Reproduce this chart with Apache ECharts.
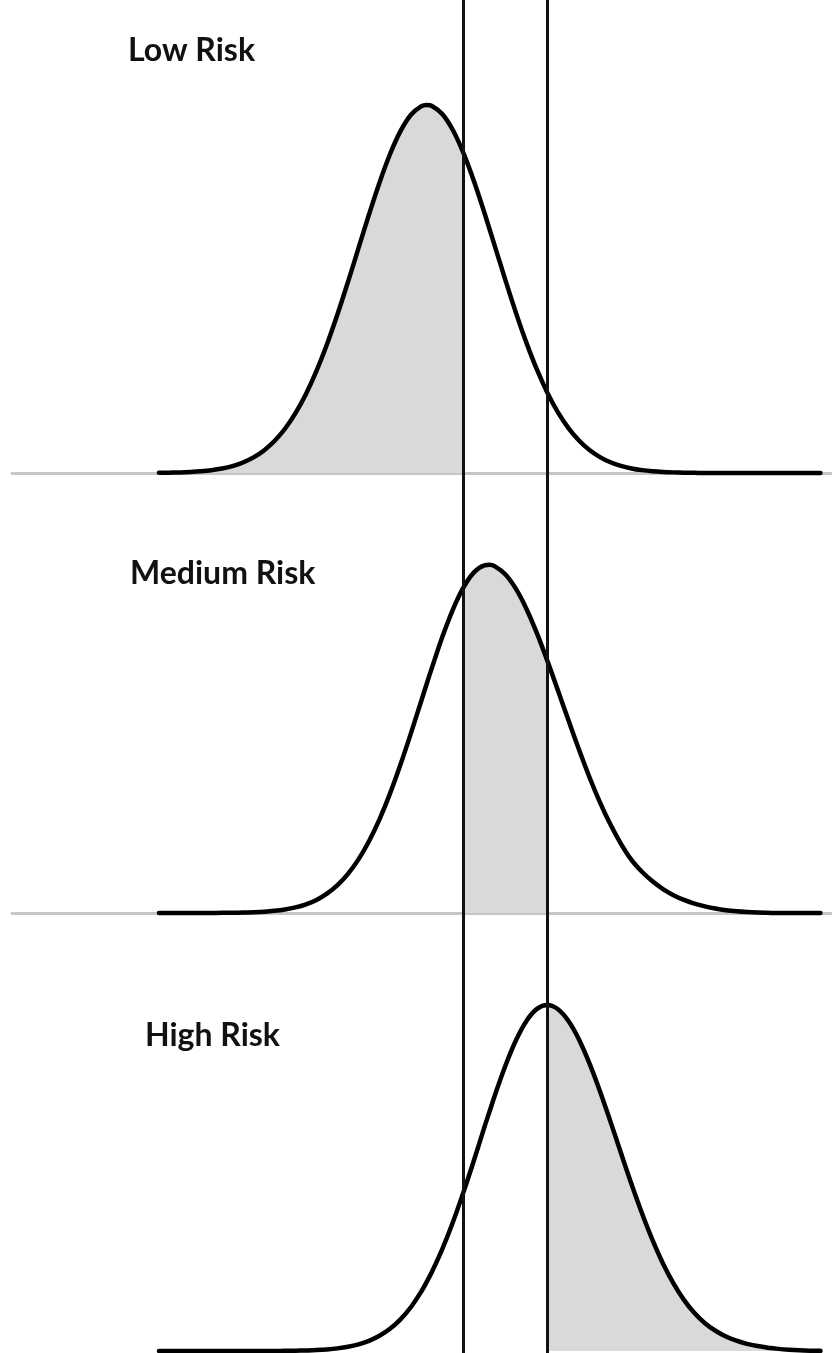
<!DOCTYPE html>
<html><head><meta charset="utf-8">
<script src="https://cdn.jsdelivr.net/npm/echarts@6/dist/echarts.min.js"></script>
<style>html,body{margin:0;padding:0;background:#fff}#c{width:832px;height:1353px}</style>
</head><body><div id="c"></div>
<script>
// x positions (risk score scale, cut-offs at 0 and 4)
const xs = [-14.5, -14, -13.5, -13, -12.5, -12, -11.5, -11, -10.5, -10, -9.5, -9, -8.5, -8, -7.5, -7, -6.5, -6, -5.5, -5, -4.5, -4, -3.5, -3, -2.5, -2, -1.75, -1.5, -1, -0.5, 0,
  0.5, 1, 1.25, 1.5, 2, 2.5, 3, 3.5, 4, 4.5, 5, 5.5, 6, 6.5, 7, 7.5, 8, 8.5, 9, 9.5, 10, 10.5, 11, 11.5, 12, 12.5, 13, 13.5, 14, 14.5, 15, 15.5, 16, 16.5, 17];
// relative frequency (percent of tallest peak)
const low = [0.05, 0.1, 0.16, 0.28, 0.47, 0.76, 1.21, 1.88, 2.86, 4.24, 6.14, 8.7, 12.03, 16.27, 21.49, 27.74, 34.99, 43.12, 51.92, 61.09, 70.24, 78.9, 86.61, 92.89, 97.35, 99.68, 100, 99.74, 97.51, 93.15, 86.94,
  79.3, 70.67, 66.1, 61.53, 52.36, 43.52, 35.36, 28.06, 21.77, 16.49, 12.21, 8.84, 6.25, 4.32, 2.91, 1.92, 1.24, 0.78, 0.48, 0.29, 0.17, 0.1, 0.05, 0, 0, 0, 0, 0, 0, 0, 0, 0, 0, 0, 0];
const medium = [0, 0, 0, 0, 0.01, 0.02, 0.04, 0.07, 0.12, 0.21, 0.35, 0.59, 0.96, 1.52, 2.36, 3.56, 5.26, 7.57, 10.63, 14.57, 19.49, 25.44, 32.43, 40.34, 48.89, 57.81, 62.3, 66.68, 75.13, 82.53, 88.48,
  92.56, 94.47, 94.6, 94.18, 91.99, 88.07, 82.63, 75.98, 68.44, 60.45, 52.36, 44.43, 36.9, 30.06, 24.02, 18.81, 14.44, 11.2, 8.6, 6.5, 4.85, 3.55, 2.55, 1.8, 1.2, 0.75, 0.45, 0.25, 0.12, 0.05, 0, 0, 0, 0, 0];
const high = [0, 0, 0, 0, 0, 0, 0, 0, 0, 0, 0.01, 0.02, 0.05, 0.08, 0.15, 0.25, 0.43, 0.71, 1.14, 1.8, 2.76, 4.13, 6.03, 8.6, 11.96, 16.25, 18.8, 21.53, 27.83, 35.06, 43.17,
  51.83, 60.9, 65.2, 69.59, 77.6, 84.46, 89.7, 92.96, 94.0, 92.85, 89.67, 84.67, 78.17, 70.61, 62.33, 53.79, 45.38, 37.44, 30.2, 23.8, 18.39, 13.9, 10.3, 7.55, 5.5, 3.95, 2.8, 1.95, 1.35, 0.9, 0.58, 0.36, 0.2, 0.1, 0.04];
const cutoffs = [0, 4];
const panelTitles = ['Low Risk', 'Medium Risk', 'High Risk'];

const X_MIN = -21.5, X_MAX = 17.55, PX_PER_UNIT = 3.68, SMOOTH = 0.35;
const panels = [
  { top: 0,   height: 473, from: -Infinity, to: 0,        values: low,    base: true,  title: { left: 128, top: 35 } },
  { top: 473, height: 440, from: 0,         to: 4,        values: medium, base: true,  title: { left: 130, top: 558 } },
  { top: 913, height: 438, from: 4,         to: Infinity, values: high,   base: false, title: { left: 145, top: 1020 } }
];

const grids = [], xAxes = [], yAxes = [], series = [], titles = [];
panels.forEach((p, i) => {
  grids.push({ left: 12, right: 0, top: p.top, height: p.height });
  xAxes.push({ type: 'value', gridIndex: i, min: X_MIN, max: X_MAX,
    axisLine: { show: p.base, onZero: true, lineStyle: { color: '#c6c6c6', width: 3 } },
    axisTick: { show: false }, axisLabel: { show: false }, splitLine: { show: false } });
  yAxes.push({ type: 'value', gridIndex: i, min: 0, max: p.height / PX_PER_UNIT,
    axisLine: { show: false }, axisTick: { show: false }, axisLabel: { show: false }, splitLine: { show: false } });
  const pts = xs.map((x, k) => [x, p.values[k]]);
  series.push({ type: 'line', xAxisIndex: i, yAxisIndex: i, smooth: SMOOTH, symbol: 'none', clip: false, z: 2,
    data: pts.filter(d => d[0] >= p.from && d[0] <= p.to),
    lineStyle: { width: 0 }, areaStyle: { color: '#d9d9d9', opacity: 1 } });
  series.push({ type: 'line', xAxisIndex: i, yAxisIndex: i, smooth: SMOOTH, symbol: 'none', clip: false, z: 4,
    data: pts, lineStyle: { color: '#000', width: 4.5, join: 'round', cap: 'round' } });
  titles.push({ text: panelTitles[i], left: p.title.left, top: p.title.top, padding: 0,
    textStyle: { fontFamily: 'Lato', fontWeight: 'bold', fontSize: 32, color: '#111' } });
});
// full-height grid for the two cut-off lines
grids.push({ left: 12, right: 0, top: 0, bottom: 0 });
xAxes.push({ type: 'value', gridIndex: 3, min: X_MIN, max: X_MAX, show: false });
yAxes.push({ type: 'value', gridIndex: 3, min: 0, max: 1, show: false });
series.push({ type: 'line', xAxisIndex: 3, yAxisIndex: 3, data: [], symbol: 'none', z: 5,
  markLine: { symbol: 'none', silent: true, label: { show: false }, animation: false,
    lineStyle: { color: '#111', width: 3, type: 'solid' },
    data: cutoffs.map(v => ({ xAxis: v })) } });

const chart = echarts.init(document.getElementById('c'), null, { renderer: 'canvas' });
chart.setOption({ animation: false, backgroundColor: '#fff', title: titles,
  grid: grids, xAxis: xAxes, yAxis: yAxes, series: series });
</script></body></html>
